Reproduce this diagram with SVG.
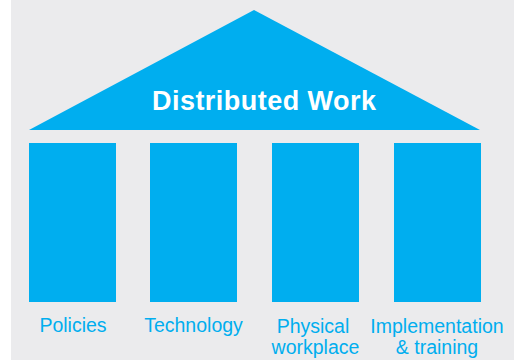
<svg xmlns="http://www.w3.org/2000/svg" width="522" height="360" viewBox="0 0 522 360">
<style>
.bg{fill:#ebebed}
.blue{fill:#00aeef}
.title{font-family:"Liberation Sans",Arial,sans-serif;font-weight:bold;font-size:27px;fill:#ffffff;text-anchor:middle}
.lbl{font-family:"Liberation Sans",Arial,sans-serif;font-size:19.5px;fill:#00aeef;text-anchor:middle}
</style>
<rect x="0" y="0" width="522" height="360" fill="#ffffff"/>
<rect class="bg" x="11" y="0" width="503" height="360"/>
<g id="roof">
<polygon class="blue" points="29,130 254,10 480,130"/>
<text class="title" x="264" y="110" textLength="224" lengthAdjust="spacing">Distributed Work</text>
</g>
<g id="pillar-policies">
<rect class="blue" x="29" y="143" width="87" height="159"/>
<text class="lbl" x="73" y="332">Policies</text>
</g>
<g id="pillar-technology">
<rect class="blue" x="150" y="143" width="87" height="159"/>
<text class="lbl" x="193.5" y="332">Technology</text>
</g>
<g id="pillar-physical">
<rect class="blue" x="272" y="143" width="87" height="159"/>
<text class="lbl" x="313" y="333">Physical</text>
<text class="lbl" x="315.5" y="354">workplace</text>
</g>
<g id="pillar-implementation">
<rect class="blue" x="394" y="143" width="87" height="159"/>
<text class="lbl" x="437" y="333">Implementation</text>
<text class="lbl" x="437" y="354">&amp; training</text>
</g>
<g id="connectors"></g>
</svg>
